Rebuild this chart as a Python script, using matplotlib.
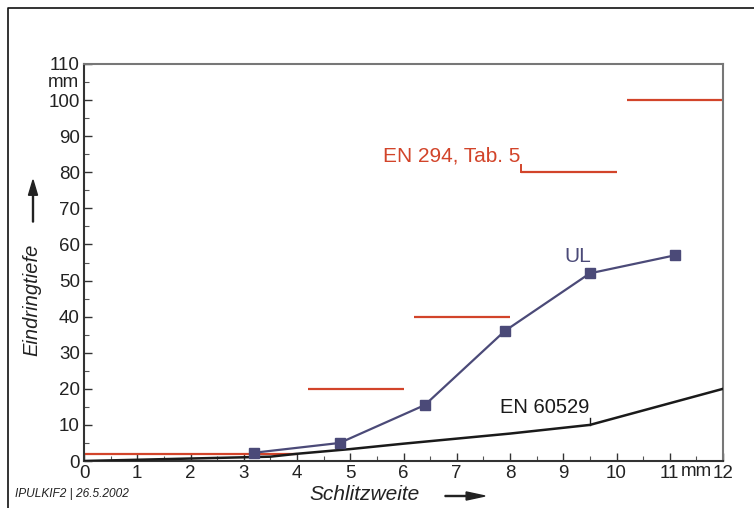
import matplotlib.pyplot as plt
from matplotlib.patches import FancyArrow
from matplotlib.lines import Line2D

plt.rcParams['font.family'] = ['Liberation Sans', 'DejaVu Sans']

# UL measurement series
ul_x = [3.2, 4.8, 6.4, 7.9, 9.5, 11.1]
ul_y = [2.3, 5.0, 15.5, 36.0, 52.0, 57.0]

# EN 60529 curve
en60529_x = [0, 3.5, 4.0, 5.0, 6.0, 7.0, 8.0, 9.5, 12.0]
en60529_y = [0, 1.2, 2.0, 3.3, 4.8, 6.2, 7.6, 10.0, 20.0]

# EN 294, Tab. 5 steps (x start, x end, depth)
en294_x0 = [0.0, 4.2, 6.2, 8.2, 10.2]
en294_x1 = [4.0, 6.0, 8.0, 10.0, 12.0]
en294_y = [2, 20, 40, 80, 100]

x_ticks = list(range(0, 13))
y_ticks = list(range(0, 111, 10))

red = '#d2442a'
ul_col = '#4b4a78'
dark = '#1a1a1a'

fig = plt.figure(figsize=(7.54, 5.08), dpi=100)
ax = fig.add_axes([84 / 754, 1 - 461 / 508, (723 - 84) / 754, (461 - 64) / 508])

for x0, x1, y in zip(en294_x0, en294_x1, en294_y):
    ax.plot([x0, x1], [y, y], color=red, lw=1.6, solid_capstyle='butt', zorder=2)
# small hook at start of 80 mm step
ax.plot([en294_x0[3], en294_x0[3]], [en294_y[3], en294_y[3] + 2], color=red, lw=1.4, zorder=2)

ax.plot(en60529_x, en60529_y, color=dark, lw=1.8, zorder=3)
ax.plot([9.5, 9.5], [10, 11.8], color=dark, lw=1.0, zorder=3)

ax.plot(ul_x, ul_y, color=ul_col, lw=1.6, marker='s', ms=7, zorder=4)

ax.text(8.2, 82.0, 'EN 294, Tab. 5', color=red, fontsize=15, ha='right', va='bottom')
ax.text(9.28, 56.8, 'UL', color=ul_col, fontsize=15, ha='center', va='center')
ax.text(8.65, 14.7, 'EN 60529', color=dark, fontsize=14.5, ha='center', va='center')

ax.set_xlim(0, 12)
ax.set_ylim(0, 110)
ax.set_xticks(x_ticks)
ax.set_yticks(y_ticks)
ax.set_xticks([x + 0.5 for x in x_ticks[:-1]], minor=True)
ax.set_yticks([y + 5 for y in y_ticks[:-1]], minor=True)
ax.tick_params(axis='both', which='major', direction='in', length=6, width=1,
               labelsize=13.5, colors='#333333', labelcolor='#222222')
ax.tick_params(axis='both', which='minor', direction='in', length=3.5, width=0.8,
               colors='#555555')
ax.tick_params(axis='x', pad=3)
ax.tick_params(axis='y', pad=3)

for side in ['left', 'bottom']:
    ax.spines[side].set_color('#333333')
    ax.spines[side].set_linewidth(1.5)
for side in ['top', 'right']:
    ax.spines[side].set_color('#777777')
    ax.spines[side].set_linewidth(1.5)

# unit labels on the axes
ax.text(11.5, -2.9, 'mm', fontsize=13.5, ha='center', va='center', color='#222222')
ax.text(-0.1, 105, 'mm', fontsize=13.5, ha='right', va='center', color='#222222')

# axis titles with arrows
fig.text(32 / 754, 1 - 300 / 508, 'Eindringtiefe', rotation=90, style='italic',
         fontsize=14.5, ha='center', va='center', color='#222222')
fig.text(365 / 754, 1 - 494 / 508, 'Schlitzweite', style='italic',
         fontsize=15, ha='center', va='center', color='#222222')
fig.add_artist(FancyArrow(33 / 754, 1 - 222 / 508, 0, 42 / 508, width=0.0013,
                          head_width=0.012, head_length=0.03,
                          length_includes_head=True, color='#222222',
                          transform=fig.transFigure))
fig.add_artist(FancyArrow(445 / 754, 1 - 496 / 508, 40 / 754, 0, width=0.002,
                          head_width=0.016, head_length=0.025,
                          length_includes_head=True, color='#222222',
                          transform=fig.transFigure))

fig.text(15 / 754, 1 - 494 / 508, 'IPULKIF2 | 26.5.2002', style='italic',
         fontsize=8.6, ha='left', va='center', color='#222222')

# outer frame
fig.add_artist(Line2D([8 / 754, 8 / 754, 1.0], [0.0, 1 - 8 / 508, 1 - 8 / 508],
                      color='#111111', lw=1.2, transform=fig.transFigure))

fig.savefig('out.png', dpi=100)
